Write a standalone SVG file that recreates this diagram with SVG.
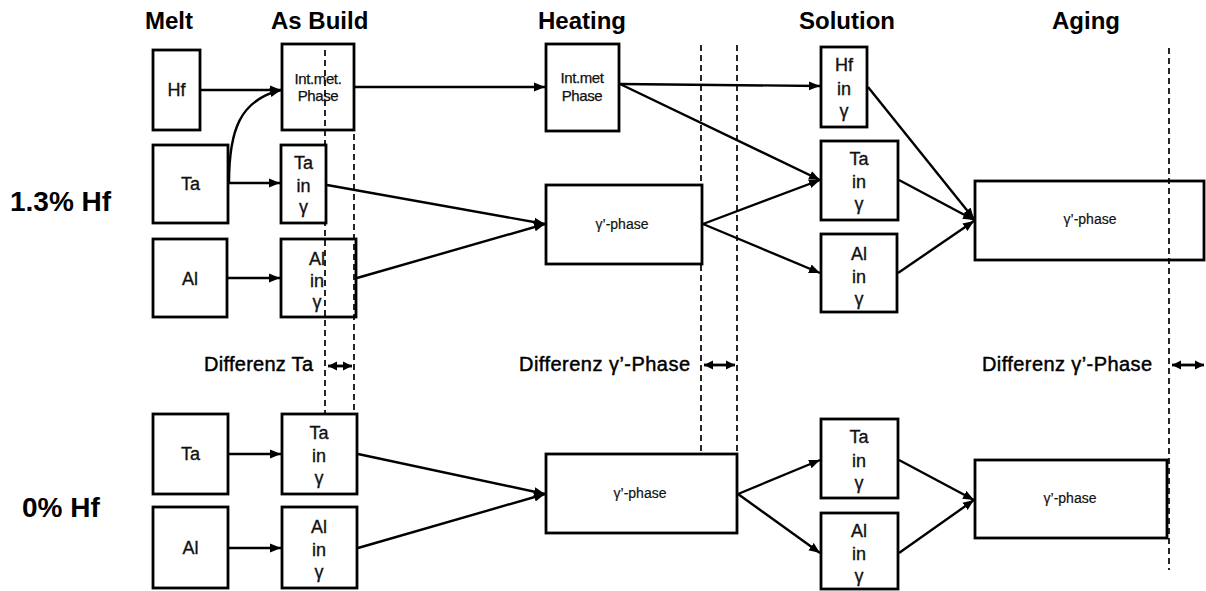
<svg xmlns="http://www.w3.org/2000/svg" width="1206" height="591" viewBox="0 0 1206 591">
  <defs>
    <marker id="arrow" markerUnits="userSpaceOnUse" markerWidth="12" markerHeight="10" viewBox="0 0 12 10" refX="11" refY="5" orient="auto-start-reverse">
      <path d="M0,0.5 L11,5 L0,9.5 z" fill="#000"/>
    </marker>
    <marker id="arrow-s" markerUnits="userSpaceOnUse" markerWidth="10" markerHeight="10" viewBox="0 0 10 10" refX="9" refY="5" orient="auto-start-reverse">
      <path d="M0,0.5 L9,5 L0,9.5 z" fill="#000"/>
    </marker>
  </defs>
  <style>
    .box { fill: #fff; stroke: #000; stroke-width: 2.8; }
    .lbl { font-family: "Liberation Sans", Arial, sans-serif; font-size: 18px; fill: #111; stroke: #111; stroke-width: 0.35; text-anchor: middle; }
    .sm { font-family: "Liberation Sans", Arial, sans-serif; font-size: 14px; fill: #111; stroke: #111; stroke-width: 0.2; text-anchor: middle; }
    .im { font-family: "Liberation Sans", Arial, sans-serif; font-size: 15px; fill: #111; stroke: #111; stroke-width: 0.25; text-anchor: middle; letter-spacing: -0.4px; }
    .title { font-family: "Liberation Sans", Arial, sans-serif; font-size: 24px; font-weight: bold; fill: #000; }
    .row { font-family: "Liberation Sans", Arial, sans-serif; font-size: 28px; font-weight: bold; fill: #000; }
    .diff { font-family: "Liberation Sans", Arial, sans-serif; font-size: 20px; fill: #000; stroke: #000; stroke-width: 0.45; }
    .conn { fill: none; stroke: #000; stroke-width: 2.4; }
    .dash { fill: none; stroke: #000; stroke-width: 1.7; stroke-dasharray: 6 4; }
    .dbl { fill: none; stroke: #000; stroke-width: 2.8; marker-start: url(#arrow-s); marker-end: url(#arrow-s); }
  </style>
  <rect width="1206" height="591" fill="#fff"/>

  <!-- stage headings -->
  <g id="headings">
    <text class="title" x="145" y="29">Melt</text>
    <text class="title" x="271" y="29">As Build</text>
    <text class="title" x="538" y="29">Heating</text>
    <text class="title" x="799" y="29">Solution</text>
    <text class="title" x="1052" y="29">Aging</text>
    <text class="row" x="10" y="211">1.3% Hf</text>
    <text class="row" x="22" y="517">0% Hf</text>
  </g>

  <!-- stage boundaries -->
  <g id="boundaries">
    <line class="dash" x1="325" y1="50" x2="325" y2="420"/>
    <line class="dash" x1="354" y1="44" x2="354" y2="414"/>
    <line class="dash" x1="701" y1="45" x2="701" y2="455"/>
    <line class="dash" x1="737" y1="45" x2="737" y2="455"/>
    <line class="dash" x1="1169" y1="48" x2="1169" y2="570"/>
  </g>

  <!-- difference annotations -->
  <g id="differences">
    <text class="diff" x="204" y="371" textLength="109">Differenz Ta</text>
    <line class="dbl" x1="328" y1="366" x2="352" y2="366"/>
    <text class="diff" x="519" y="371" textLength="171">Differenz γ’-Phase</text>
    <line class="dbl" x1="704" y1="365" x2="735" y2="365"/>
    <text class="diff" x="982" y="371" textLength="170">Differenz γ’-Phase</text>
    <line class="dbl" x1="1172" y1="365" x2="1204" y2="365"/>
  </g>

  <!-- connectors -->
  <g id="connectors">
    <!-- 1.3% Hf -->
    <line class="conn" x1="201" y1="90" x2="281" y2="90" marker-end="url(#arrow)"/>
    <path class="conn" d="M229,183 C229,130 240,100 281,90" marker-end="url(#arrow)"/>
    <line class="conn" x1="229" y1="183" x2="280" y2="183" marker-end="url(#arrow)"/>
    <line class="conn" x1="228" y1="278" x2="280" y2="278" marker-end="url(#arrow)"/>
    <line class="conn" x1="355" y1="87" x2="545" y2="87" marker-end="url(#arrow)"/>
    <line class="conn" x1="327" y1="185" x2="545" y2="224" marker-end="url(#arrow)"/>
    <line class="conn" x1="357" y1="278" x2="545" y2="224" marker-end="url(#arrow)"/>
    <line class="conn" x1="620" y1="84" x2="820" y2="86" marker-end="url(#arrow)"/>
    <line class="conn" x1="620" y1="84" x2="820" y2="180" marker-end="url(#arrow)"/>
    <line class="conn" x1="703" y1="224" x2="820" y2="180" marker-end="url(#arrow)"/>
    <line class="conn" x1="703" y1="224" x2="820" y2="273" marker-end="url(#arrow)"/>
    <line class="conn" x1="868" y1="87" x2="974" y2="219" marker-end="url(#arrow)"/>
    <line class="conn" x1="899" y1="180" x2="974" y2="220" marker-end="url(#arrow)"/>
    <line class="conn" x1="898" y1="273" x2="974" y2="221" marker-end="url(#arrow)"/>
    <!-- 0% Hf -->
    <line class="conn" x1="229" y1="454" x2="281" y2="454" marker-end="url(#arrow)"/>
    <line class="conn" x1="229" y1="548" x2="281" y2="548" marker-end="url(#arrow)"/>
    <line class="conn" x1="358" y1="454" x2="545" y2="494" marker-end="url(#arrow)"/>
    <line class="conn" x1="358" y1="548" x2="545" y2="494" marker-end="url(#arrow)"/>
    <line class="conn" x1="738" y1="494" x2="820" y2="460" marker-end="url(#arrow)"/>
    <line class="conn" x1="738" y1="494" x2="820" y2="553" marker-end="url(#arrow)"/>
    <line class="conn" x1="899" y1="460" x2="974" y2="500" marker-end="url(#arrow)"/>
    <line class="conn" x1="899" y1="553" x2="974" y2="500" marker-end="url(#arrow)"/>
  </g>

  <!-- 1.3% Hf nodes -->
  <g id="melt-hf">
    <rect class="box" x="153" y="50" width="47" height="80"/>
    <text class="lbl" x="176.5" y="96">Hf</text>
  </g>
  <g id="melt-ta">
    <rect class="box" x="153" y="145" width="75" height="78"/>
    <text class="lbl" x="190.5" y="190">Ta</text>
  </g>
  <g id="melt-al">
    <rect class="box" x="153" y="239" width="74" height="78"/>
    <text class="lbl" x="190" y="285">Al</text>
  </g>
  <g id="build-intmet">
    <rect class="box" x="282" y="44" width="72" height="86" fill-opacity="0"/>
    <text class="im" x="318" y="84">Int.met.</text>
    <text class="im" x="318" y="101">Phase</text>
  </g>
  <g id="build-ta">
    <rect class="box" x="281" y="145" width="45" height="78"/>
    <text class="lbl" x="303.5" y="169">Ta</text>
    <text class="lbl" x="303.5" y="192">in</text>
    <text class="lbl" x="303.5" y="213">γ</text>
  </g>
  <g id="build-al">
    <rect class="box" x="281" y="239" width="75" height="78" fill-opacity="0"/>
    <text class="lbl" x="317" y="265">Al</text>
    <text class="lbl" x="317" y="287">in</text>
    <text class="lbl" x="317" y="308">γ</text>
  </g>
  <g id="heat-intmet">
    <rect class="box" x="546" y="44" width="73" height="87"/>
    <text class="im" x="582" y="83">Int.met</text>
    <text class="im" x="582" y="101">Phase</text>
  </g>
  <g id="heat-gp">
    <rect class="box" x="546" y="185" width="156" height="79"/>
    <text class="sm" x="622" y="229">γ’-phase</text>
  </g>
  <g id="sol-hf">
    <rect class="box" x="821" y="47" width="46" height="80"/>
    <text class="lbl" x="844" y="71">Hf</text>
    <text class="lbl" x="844" y="95">in</text>
    <text class="lbl" x="844" y="117">γ</text>
  </g>
  <g id="sol-ta">
    <rect class="box" x="821" y="141" width="77" height="79"/>
    <text class="lbl" x="859" y="165">Ta</text>
    <text class="lbl" x="859" y="188">in</text>
    <text class="lbl" x="859" y="210">γ</text>
  </g>
  <g id="sol-al">
    <rect class="box" x="821" y="234" width="76" height="78"/>
    <text class="lbl" x="859" y="260">Al</text>
    <text class="lbl" x="859" y="283">in</text>
    <text class="lbl" x="859" y="305">γ</text>
  </g>
  <g id="age-gp">
    <rect class="box" x="975" y="181" width="229" height="79" fill-opacity="0"/>
    <text class="sm" x="1090" y="224">γ’-phase</text>
  </g>

  <!-- 0% Hf nodes -->
  <g id="melt-ta2">
    <rect class="box" x="153" y="414" width="75" height="80"/>
    <text class="lbl" x="190.5" y="460">Ta</text>
  </g>
  <g id="melt-al2">
    <rect class="box" x="153" y="507" width="75" height="81"/>
    <text class="lbl" x="190.5" y="554">Al</text>
  </g>
  <g id="build-ta2">
    <rect class="box" x="282" y="414" width="75" height="80"/>
    <text class="lbl" x="319" y="439">Ta</text>
    <text class="lbl" x="319" y="462">in</text>
    <text class="lbl" x="319" y="484">γ</text>
  </g>
  <g id="build-al2">
    <rect class="box" x="282" y="507" width="75" height="81"/>
    <text class="lbl" x="319" y="533">Al</text>
    <text class="lbl" x="319" y="556">in</text>
    <text class="lbl" x="319" y="578">γ</text>
  </g>
  <g id="heat-gp2">
    <rect class="box" x="546" y="454" width="191" height="79"/>
    <text class="sm" x="640" y="498">γ’-phase</text>
  </g>
  <g id="sol-ta2">
    <rect class="box" x="821" y="419" width="77" height="79"/>
    <text class="lbl" x="859" y="443">Ta</text>
    <text class="lbl" x="859" y="467">in</text>
    <text class="lbl" x="859" y="489">γ</text>
  </g>
  <g id="sol-al2">
    <rect class="box" x="821" y="513" width="77" height="76"/>
    <text class="lbl" x="859" y="537">Al</text>
    <text class="lbl" x="859" y="560">in</text>
    <text class="lbl" x="859" y="582">γ</text>
  </g>
  <g id="age-gp2">
    <rect class="box" x="975" y="460" width="192" height="78"/>
    <text class="sm" x="1070" y="503">γ’-phase</text>
  </g>
</svg>
